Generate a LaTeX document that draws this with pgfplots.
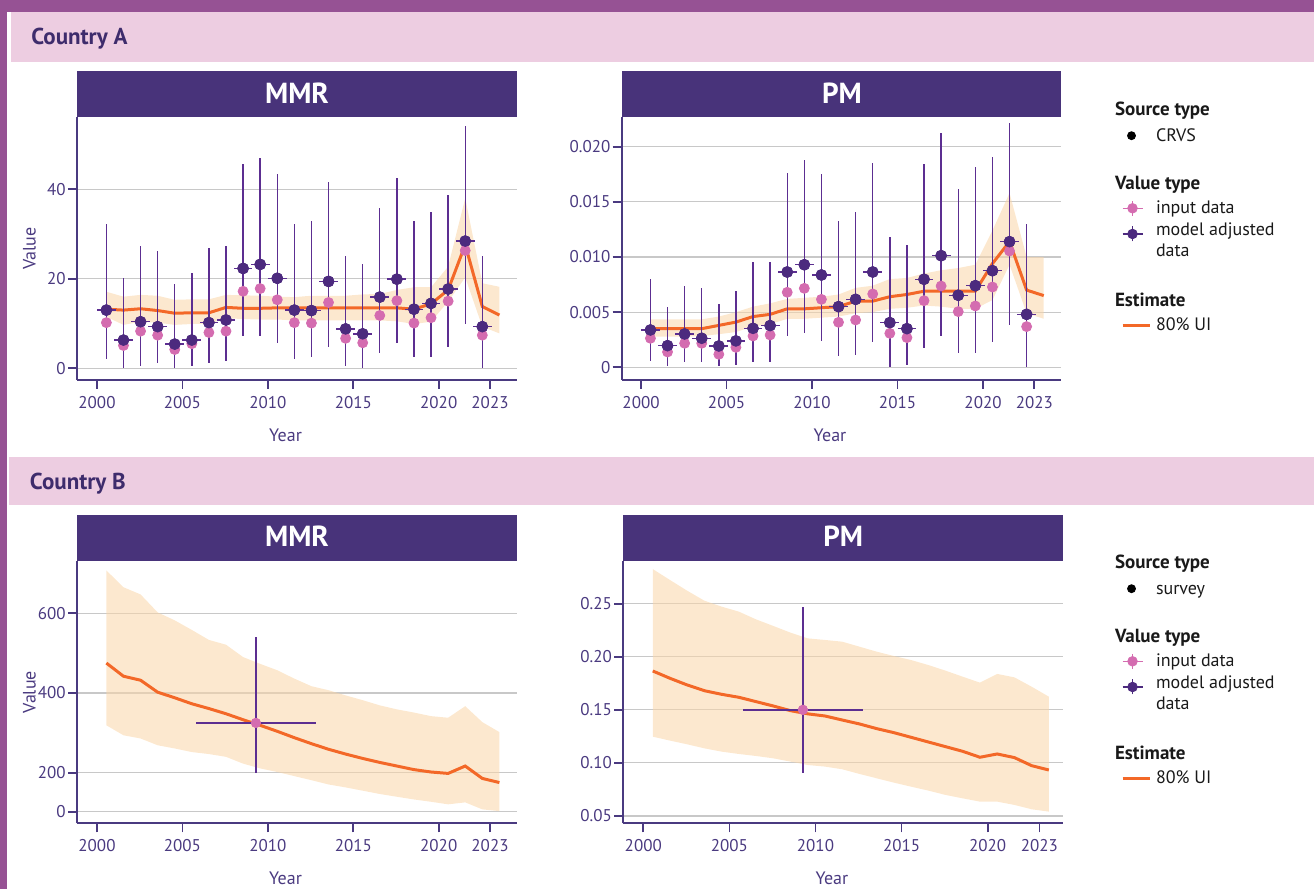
\documentclass[border=0pt]{standalone}
\usepackage{fontspec}
\setmainfont{PT Sans}
\usepackage{pgfplots}
\usepackage{pgfplotstable}
\pgfplotsset{compat=1.18}
\usepgfplotslibrary{fillbetween}

\definecolor{framecol}{RGB}{150,82,148}
\definecolor{bandbg}{RGB}{237,205,225}
\definecolor{hdr}{RGB}{72,51,122}
\definecolor{ctitle}{RGB}{62,44,108}
\definecolor{axcol}{RGB}{74,58,128}
\definecolor{adjcol}{RGB}{76,42,126}
\definecolor{inpcol}{RGB}{212,108,176}
\definecolor{errcol}{RGB}{92,46,145}
\definecolor{estcol}{RGB}{243,104,40}
\definecolor{uicol}{RGB}{250,214,168}
\definecolor{gridcol}{RGB}{200,200,200}

% Country A, MMR: data points
\pgfplotstableread{
x adj inp hi lo xe
2000.55 13.0 10.2 32.2 2.1 0.55
2001.55 6.3 5.1 20.1 0.0 0.55
2002.55 10.4 8.3 27.3 0.6 0.55
2003.55 9.3 7.4 26.1 1.3 0.55
2004.55 5.4 4.2 18.8 0.0 0.55
2005.55 6.3 5.5 21.2 0.6 0.55
2006.55 10.2 8.0 26.8 1.3 0.55
2007.55 10.8 8.3 27.3 1.6 0.55
2008.55 22.3 17.2 45.6 7.3 0.55
2009.55 23.2 17.8 46.9 7.3 0.55
2010.55 20.1 15.3 43.3 5.7 0.55
2011.55 13.0 10.2 32.3 2.1 0.55
2012.55 12.9 10.1 32.8 2.6 0.55
2013.55 19.4 14.7 41.6 4.7 0.55
2014.55 8.8 6.7 25.1 0.6 0.55
2015.55 7.7 5.7 23.2 0.0 0.55
2016.55 15.9 11.8 35.8 3.4 0.55
2017.55 19.9 15.1 42.5 5.7 0.55
2018.55 13.2 10.1 32.8 2.6 0.55
2019.55 14.5 11.3 34.9 2.6 0.55
2020.55 17.7 15.0 38.8 4.7 0.55
2021.55 28.4 26.3 54.0 9.8 0.55
2022.55 9.3 7.4 25.1 0.0 0.55
}\TLpts
% Country A, MMR: estimate
\pgfplotstableread{
x est lo hi
2000.55 13.2 11.5 17.1
2001.55 13.0 9.7 16.0
2002.55 13.3 10.4 16.4
2003.55 12.9 10.2 16.2
2004.55 12.3 9.7 15.3
2005.55 12.4 9.9 15.4
2006.55 12.4 9.9 15.4
2007.55 13.6 11.2 16.4
2008.55 13.4 11.0 16.3
2009.55 13.4 10.9 16.2
2010.55 13.5 10.9 16.0
2011.55 13.5 10.7 15.9
2012.55 13.5 10.7 16.2
2013.55 13.5 10.7 16.2
2014.55 13.5 10.7 16.2
2015.55 13.5 10.7 16.5
2016.55 13.5 10.7 16.6
2017.55 13.5 10.5 17.5
2018.55 13.2 9.9 18.1
2019.55 14.4 10.4 18.1
2020.55 17.5 14.9 22.7
2021.55 27.6 20.3 38.0
2022.55 13.8 9.3 19.0
2023.55 11.9 7.8 18.2
}\TLest
% Country A, PM: data points
\pgfplotstableread{
x adj inp hi lo xe
2000.55 0.00338 0.00263 0.00800 0.00060 0.55
2001.55 0.00196 0.00139 0.00547 0.00012 0.55
2002.55 0.00302 0.00218 0.00737 0.00051 0.55
2003.55 0.00263 0.00218 0.00722 0.00050 0.55
2004.55 0.00193 0.00118 0.00571 0.00010 0.55
2005.55 0.00239 0.00181 0.00692 0.00020 0.55
2006.55 0.00353 0.00284 0.00955 0.00050 0.55
2007.55 0.00378 0.00293 0.00955 0.00050 0.55
2008.55 0.00864 0.00680 0.01758 0.00284 0.55
2009.55 0.00930 0.00716 0.01879 0.00308 0.55
2010.55 0.00837 0.00616 0.01749 0.00242 0.55
2011.55 0.00550 0.00408 0.01326 0.00100 0.55
2012.55 0.00616 0.00429 0.01411 0.00110 0.55
2013.55 0.00864 0.00665 0.01855 0.00233 0.55
2014.55 0.00405 0.00308 0.01181 0.00000 0.55
2015.55 0.00350 0.00269 0.01109 0.00020 0.55
2016.55 0.00798 0.00604 0.01840 0.00172 0.55
2017.55 0.01012 0.00737 0.02127 0.00284 0.55
2018.55 0.00653 0.00505 0.01616 0.00127 0.55
2019.55 0.00740 0.00556 0.01819 0.00127 0.55
2020.55 0.00876 0.00728 0.01909 0.00233 0.55
2021.55 0.01139 0.01054 0.02217 0.00384 0.55
2022.55 0.00480 0.00369 0.01299 0.00000 0.55
}\TRpts
% Country A, PM: estimate
\pgfplotstableread{
x est lo hi
2000.55 0.0035 0.00278 0.00435
2001.55 0.0035 0.00278 0.00435
2002.55 0.0035 0.00278 0.00435
2003.55 0.0035 0.00284 0.00435
2004.55 0.0038 0.0030 0.0046
2005.55 0.0041 0.0032 0.0050
2006.55 0.0046 0.0037 0.0055
2007.55 0.0048 0.0039 0.0058
2008.55 0.0053 0.0044 0.0062
2009.55 0.0053 0.0044 0.0063
2010.55 0.0054 0.0045 0.0064
2011.55 0.0055 0.0046 0.0066
2012.55 0.0060 0.0049 0.0072
2013.55 0.0060 0.0050 0.0074
2014.55 0.0064 0.0053 0.0080
2015.55 0.0066 0.0054 0.0081
2016.55 0.0069 0.0056 0.0085
2017.55 0.0069 0.0055 0.0088
2018.55 0.0069 0.0053 0.0090
2019.55 0.0069 0.0053 0.0093
2020.55 0.0094 0.0061 0.0124
2021.55 0.0114 0.0093 0.0158
2022.55 0.0070 0.0049 0.0100
2023.55 0.0065 0.0044 0.0100
}\TRest
% Country B, MMR (values in the axis' plotting scale: the "0" tick
% of this panel sits at 102.5, the scale is linear from 200 upwards)
\pgfplotstableread{
x y hi lo xe
2009.3 325 540 199 3.5
}\BLpts
\pgfplotstableread{
x est lo hi
2000.55 475 319 707
2001.55 442 294 665
2002.55 432 286 647
2003.55 402 269 602
2004.55 388 261 582
2005.55 373 252 558
2006.55 361 247 533
2007.55 348 240 521
2008.55 333 223 490
2009.55 319 211 473
2010.55 304 202 457
2011.55 288 191.7 436
2012.55 273 181.5 417
2013.55 259 170.8 407
2014.55 247 163.4 394
2015.55 236 155.2 382
2016.55 226 146.9 369
2017.55 217 140.0 359
2018.55 208 133.2 351
2019.55 202 127.4 342
2020.55 198.5 121.0 338
2021.55 217 125.9 367
2022.55 185.9 108.4 327
2023.55 175.6 104.0 302
}\BLest
% Country B, PM
\pgfplotstableread{
x y hi lo xe
2009.27 0.150 0.2465 0.0902 3.47
}\BRpts
\pgfplotstableread{
x est lo hi
2000.55 0.1866 0.1247 0.2826
2001.55 0.1797 0.1210 0.2723
2002.55 0.1734 0.1175 0.2622
2003.55 0.1680 0.1137 0.2528
2004.55 0.1646 0.1106 0.2472
2005.55 0.1618 0.1084 0.2425
2006.55 0.1577 0.1065 0.2352
2007.55 0.1536 0.1043 0.2290
2008.55 0.1492 0.1012 0.2227
2009.55 0.1462 0.0980 0.2173
2010.55 0.1442 0.0965 0.2158
2011.55 0.1404 0.0940 0.2142
2012.55 0.1367 0.0896 0.2095
2013.55 0.1323 0.0855 0.2048
2014.55 0.1285 0.0814 0.2007
2015.55 0.1241 0.0776 0.1969
2016.55 0.1197 0.0739 0.1922
2017.55 0.1153 0.0698 0.1869
2018.55 0.1109 0.0666 0.1812
2019.55 0.1053 0.0635 0.1756
2020.55 0.1084 0.0635 0.1838
2021.55 0.1050 0.0604 0.1806
2022.55 0.0974 0.0563 0.1718
2023.55 0.0933 0.0541 0.1624
}\BRest

\pgfplotsset{
  panel/.style={
    scale only axis,
    axis x line=bottom, axis y line=left,
    axis line style={-, axcol, line width=0.85pt},
    every outer x axis line/.append style={-},
    every outer y axis line/.append style={-},
    tick style={axcol, line width=0.85pt},
    major tick length=4.5pt,
    tick align=outside,
    ymajorgrids, major grid style={gridcol, line width=0.6pt},
    xtick={2000,2005,2010,2015,2020,2023},
    xticklabels={2000,2005,2010,2015,2020,2023},
    ticklabel style={font=\fontsize{8.5}{10}\selectfont, text=axcol},
    yticklabel style={inner xsep=1pt},
    label style={font=\fontsize{9}{10}\selectfont, text=axcol},
    xlabel={Year},
    xlabel style={at={(axis description cs:0.474,-0.209)}, anchor=center},
    ylabel style={at={(axis description cs:-0.108,0.5)}, anchor=center},
  },
  bandlo/.style={name path=lo, draw=none, forget plot},
  bandhi/.style={name path=hi, draw=none, forget plot},
  bandfill/.style={fill=uicol, fill opacity=0.55, draw=none, forget plot},
  estline/.style={estcol, line width=1.5pt, no marks, forget plot},
  errpts/.style={only marks, mark=*, mark size=2.7pt, color=adjcol, mark options={fill=adjcol, draw=adjcol}, forget plot,
    error bars/x dir=both, error bars/x explicit, error bars/y dir=both, error bars/y explicit,
    error bars/error bar style={errcol, line width=0.7pt}, error bars/error mark=none},
  inppts/.style={only marks, mark=*, mark size=2.5pt, color=inpcol, mark options={fill=inpcol, draw=inpcol}, forget plot},
  adjpts/.style={only marks, mark=*, mark size=2.7pt, color=adjcol, mark options={fill=adjcol, draw=adjcol}, forget plot},
  mylegend/.style={legend style={at={(axis description cs:#1)}, anchor=north west, draw=none, fill=none,
    inner sep=0pt, outer sep=0pt, row sep=0pt, column sep=2.5pt,
    cells={anchor=base west},
    nodes={inner sep=0pt, text depth=3pt, font=\fontsize{9}{11}\selectfont, text=black!90}}},
}

\newcommand{\hdrtext}[1]{{\hspace*{-20.5pt}\bfseries\fontsize{9.5}{11}\selectfont #1}}
\newcommand{\panellegend}[1]{%
  \addlegendimage{legend image code/.code={\path (0pt,0pt) (13.5pt,0pt);}}
  \addlegendentry{\rule{0pt}{7pt}\hdrtext{Source type}}
  \addlegendimage{legend image code/.code={\path (0pt,0pt) (13.5pt,0pt); \fill[black] (4.5pt,3pt) circle (2pt);}}
  \addlegendentry{\rule{0pt}{10pt}#1}
  \addlegendimage{legend image code/.code={\path (0pt,0pt) (13.5pt,0pt);}}
  \addlegendentry{\rule{0pt}{21.15pt}\hdrtext{Value type}}
  \addlegendimage{legend image code/.code={\path (0pt,0pt) (13.5pt,0pt); \draw[inpcol, line width=0.65pt] (0pt,2.5pt) -- (10pt,2.5pt) (5pt,-1.25pt) -- (5pt,6.25pt); \fill[inpcol] (5pt,2.5pt) circle (2.4pt);}}
  \addlegendentry{\rule{0pt}{8.65pt}input data}
  \addlegendimage{legend image code/.code={\path (0pt,0pt) (13.5pt,0pt); \draw[adjcol, line width=0.65pt] (0pt,1pt) -- (10pt,1pt) (5pt,-2.75pt) -- (5pt,4.75pt); \fill[adjcol] (5pt,1pt) circle (2.4pt);}}
  \addlegendentry{\rule{0pt}{8.35pt}model adjusted}
  \addlegendimage{legend image code/.code={\path (0pt,0pt) (13.5pt,0pt);}}
  \addlegendentry{\rule{0pt}{7pt}data}
  \addlegendimage{legend image code/.code={\path (0pt,0pt) (13.5pt,0pt);}}
  \addlegendentry{\rule{0pt}{22pt}\hdrtext{Estimate}}
  \addlegendimage{legend image code/.code={\path (0pt,0pt) (13.5pt,0pt); \draw[estcol, line width=1.5pt] (0pt,2.85pt) -- (13.5pt,2.85pt);}}
  \addlegendentry{\rule{0pt}{9.35pt}80\% UI}
}

\begin{document}
\begin{tikzpicture}
\fill[framecol] (0pt,438.5pt) rectangle (657pt,444.5pt);
\fill[framecol] (0pt,0pt) rectangle (3.4pt,444.5pt);
\fill[bandbg] (5.7pt,413.6pt) rectangle (657pt,438.5pt);
\fill[bandbg] (4.7pt,192pt) rectangle (657pt,216.2pt);
\node[anchor=base west, inner sep=0pt, text=ctitle, font=\bfseries\fontsize{11.5}{13}\selectfont] at (15.5pt,422pt) {Country A};
\node[anchor=base west, inner sep=0pt, text=ctitle, font=\bfseries\fontsize{11.5}{13}\selectfont] at (14.8pt,199.8pt) {Country B};

% ---------- Country A, MMR ----------
\begin{axis}[panel, at={(38.5pt,254.5pt)}, anchor=south west, width=220pt, height=131.5pt,
  xmin=1998.83, xmax=2024.58, ymin=-2.6, ymax=56.1,
  ytick={0,20,40}, yticklabels={0,20,40}, ylabel={Value}]
  \addplot[bandhi] table[x=x,y=hi]{\TLest};
  \addplot[bandlo] table[x=x,y=lo]{\TLest};
  \addplot[bandfill] fill between[of=hi and lo];
  \addplot[estline] table[x=x,y=est]{\TLest};
  \addplot[errpts] table[x=x, y=adj, x error=xe, y error plus expr=\thisrow{hi}-\thisrow{adj}, y error minus expr=\thisrow{adj}-\thisrow{lo}]{\TLpts};
  \addplot[inppts] table[x=x, y=inp]{\TLpts};
  \addplot[adjpts] table[x=x, y=adj]{\TLpts};
\end{axis}

% ---------- Country A, PM ----------
\begin{axis}[panel, at={(310.85pt,254.5pt)}, anchor=south west, width=219.65pt, height=131.65pt,
  xmin=1998.87, xmax=2024.56, ymin=-0.00115, ymax=0.02272,
  ytick={0,0.005,0.01,0.015,0.02}, yticklabels={0,0.005,0.010,0.015,0.020},
  mylegend={1.1366,1.057}]
  \panellegend{CRVS}
  \addplot[bandhi] table[x=x,y=hi]{\TRest};
  \addplot[bandlo] table[x=x,y=lo]{\TRest};
  \addplot[bandfill] fill between[of=hi and lo];
  \addplot[estline] table[x=x,y=est]{\TRest};
  \addplot[errpts] table[x=x, y=adj, x error=xe, y error plus expr=\thisrow{hi}-\thisrow{adj}, y error minus expr=\thisrow{adj}-\thisrow{lo}]{\TRpts};
  \addplot[inppts] table[x=x, y=inp]{\TRpts};
  \addplot[adjpts] table[x=x, y=adj]{\TRpts};
\end{axis}

% ---------- Country B, MMR ----------
\begin{axis}[panel, at={(38.5pt,32.85pt)}, anchor=south west, width=220pt, height=131.15pt,
  xmin=1998.83, xmax=2024.58,
  ymin=73.5, ymax=730.75,
  ytick={102.5,200,400,600}, yticklabels={0,200,400,600}, ylabel={Value}]
  \addplot[bandhi] table[x=x,y=hi]{\BLest};
  \addplot[bandlo] table[x=x,y=lo]{\BLest};
  \addplot[bandfill] fill between[of=hi and lo];
  \addplot[estline] table[x=x,y=est]{\BLest};
  \addplot[errpts, mark size=2.3pt, mark options={fill=inpcol, draw=inpcol}] table[x=x, y=y, x error=xe, y error plus expr=\thisrow{hi}-\thisrow{y}, y error minus expr=\thisrow{y}-\thisrow{lo}]{\BLpts};
  \addplot[inppts, mark size=2.3pt] table[x=x, y=y]{\BLpts};
\end{axis}

% ---------- Country B, PM ----------
\begin{axis}[panel, at={(311.65pt,32.85pt)}, anchor=south west, width=220pt, height=131.15pt,
  xmin=1998.84, xmax=2024.39, ymin=0.0431, ymax=0.2902,
  ytick={0.05,0.1,0.15,0.2,0.25}, yticklabels={0.05,0.10,0.15,0.20,0.25},
  mylegend={1.1312,1.024}]
  \panellegend{survey}
  \addplot[bandhi] table[x=x,y=hi]{\BRest};
  \addplot[bandlo] table[x=x,y=lo]{\BRest};
  \addplot[bandfill] fill between[of=hi and lo];
  \addplot[estline] table[x=x,y=est]{\BRest};
  \addplot[errpts, mark size=2.3pt, mark options={fill=inpcol, draw=inpcol}] table[x=x, y=y, x error=xe, y error plus expr=\thisrow{hi}-\thisrow{y}, y error minus expr=\thisrow{y}-\thisrow{lo}]{\BRpts};
  \addplot[inppts, mark size=2.3pt] table[x=x, y=y]{\BRpts};
\end{axis}

% ---------- panel headers ----------
\fill[hdr] (38.5pt,386pt) rectangle (258.5pt,409pt);
\node[text=white, font=\bfseries\fontsize{14.5}{16}\selectfont] at (148.5pt,397.7pt) {MMR};
\fill[hdr] (310.85pt,386.15pt) rectangle (530.5pt,409pt);
\node[text=white, font=\bfseries\fontsize{14.5}{16}\selectfont] at (421pt,397.7pt) {PM};
\fill[hdr] (38.5pt,164pt) rectangle (258.5pt,187pt);
\node[text=white, font=\bfseries\fontsize{14.5}{16}\selectfont] at (148.5pt,176.2pt) {MMR};
\fill[hdr] (311.65pt,164pt) rectangle (531.65pt,187pt);
\node[text=white, font=\bfseries\fontsize{14.5}{16}\selectfont] at (421.6pt,176.2pt) {PM};
\pgfresetboundingbox
\path[use as bounding box] (0pt,0pt) rectangle (657pt,444.5pt);
\end{tikzpicture}
\end{document}
